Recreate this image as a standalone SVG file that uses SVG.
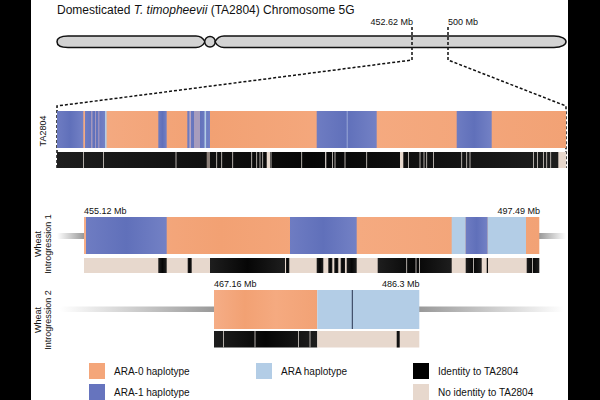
<svg xmlns="http://www.w3.org/2000/svg" width="600" height="400" viewBox="0 0 600 400">
<style>
text{font-family:"Liberation Sans",Arial,sans-serif;fill:#111}
.t{font-size:12px}
.mb{font-size:9px}
.lg{font-size:10px}
.sl{font-size:9px}
.dash{fill:none;stroke:#111;stroke-width:1.5;stroke-dasharray:3 2}
.o{fill:url(#og)}
.b{fill:url(#bg)}
.lb{fill:#B3CDE6}
.k{fill:url(#kg)}
.n{fill:#E7D8CD}
.w{fill:#d9d2cc}
.chr{fill:#d3d3d3;stroke:#111;stroke-width:1.5}
</style>
<defs>
<linearGradient id="og" x1="0" y1="0" x2="1" y2="0">
<stop offset="0" stop-color="#F5AD86"/><stop offset="0.3" stop-color="#F2A173"/><stop offset="0.6" stop-color="#F5AA80"/><stop offset="1" stop-color="#F2A275"/>
</linearGradient>
<linearGradient id="bg" x1="0" y1="0" x2="1" y2="0">
<stop offset="0" stop-color="#6E7CC2"/><stop offset="0.5" stop-color="#6070BA"/><stop offset="1" stop-color="#7381C5"/>
</linearGradient>
<linearGradient id="kg" x1="0" y1="0" x2="1" y2="0">
<stop offset="0" stop-color="#1e1e1e"/><stop offset="0.5" stop-color="#060606"/><stop offset="1" stop-color="#1e1e1e"/>
</linearGradient>
<linearGradient id="gl" x1="0" y1="0" x2="1" y2="0">
<stop offset="0" stop-color="#999" stop-opacity="0"/><stop offset="1" stop-color="#999"/>
</linearGradient>
<linearGradient id="gr" x1="0" y1="0" x2="1" y2="0">
<stop offset="0" stop-color="#999"/><stop offset="1" stop-color="#999" stop-opacity="0"/>
</linearGradient>
</defs>
<rect width="600" height="400" fill="#fff"/>
<rect x="0" y="0" width="31" height="400" fill="#000"/>
<rect x="568" y="0" width="32" height="400" fill="#000"/>

<text class="t" x="57" y="14">Domesticated <tspan font-style="italic">T. timopheevii</tspan> (TA2804) Chromosome 5G</text>

<g id="chromosome">
<path class="chr" d="M68,36 L196,36 Q202,36 205,41.75 Q202,47.5 196,47.5 L68,47.5 C60,47.5 57,45 57,41.75 C57,38.5 60,36 68,36 Z"/>
<circle class="chr" cx="210" cy="41.75" r="5.3"/>
<path class="chr" d="M224,36 L554,36 C562,36 566,39 566,41.75 C566,44.5 562,47.5 554,47.5 L224,47.5 Q218,47.5 215,41.75 Q218,36 224,36 Z"/>
<text class="mb" x="413" y="25" text-anchor="end">452.62 Mb</text>
<text class="mb" x="448" y="25">500 Mb</text>
</g>

<g id="connectors">
<path class="dash" d="M412,27 L412,60 L57,106 L57,168"/>
<path class="dash" d="M448,27 L448,60 L566,106 L566,168"/>
<rect x="57" y="233" width="27" height="6" fill="url(#gl)"/>
<rect x="539" y="233" width="27" height="6" fill="url(#gr)"/>
<rect x="60" y="306.5" width="154" height="5.5" fill="url(#gl)"/>
<rect x="419" y="306.5" width="145" height="5.5" fill="url(#gr)"/>
</g>

<g id="ta2804">
<text class="sl" transform="translate(46,131) rotate(-90)" text-anchor="middle">TA2804</text>
<rect class="o" x="57" y="111" width="509" height="37"/>
<rect class="b" x="57" y="111" width="26.3" height="37"/>
<rect class="b" x="85" y="111" width="20" height="37"/>
<rect x="91" y="111" width="1.5" height="37" fill="#a397bd"/>
<rect x="95" y="111" width="1" height="37" fill="#a397bd"/>
<rect x="98" y="111" width="1.5" height="37" fill="#9a90bd"/>
<rect x="105" y="111" width="1.6" height="37" fill="#B3CDE6"/>
<rect class="b" x="158.3" y="111" width="8.4" height="37"/>
<rect class="b" x="187.3" y="111" width="22.7" height="37"/>
<rect x="189.5" y="111" width="1.3" height="37" fill="#c9b0c0"/>
<rect x="194" y="111" width="6" height="37" fill="#a79cbd"/>
<rect x="204.5" y="111" width="1.6" height="37" fill="#B3CDE6"/>
<rect class="b" x="316.7" y="111" width="60" height="37"/>
<rect x="346.7" y="111" width="1" height="37" fill="#9aa8d8"/>
<rect class="b" x="456.7" y="111" width="35" height="37"/>
<rect class="k" x="57" y="152" width="509" height="16"/>
<g class="w">
<rect x="83" y="152" width="0.8" height="16"/><rect x="103" y="152" width="0.8" height="16"/>
<rect x="175.6" y="152" width="0.8" height="16"/><rect x="216.3" y="152" width="0.8" height="16"/>
<rect x="221.3" y="152" width="0.8" height="16"/><rect x="232.3" y="152" width="0.8" height="16"/>
<rect x="251.3" y="152" width="0.8" height="16"/><rect x="256.3" y="152" width="0.8" height="16"/>
<rect x="259.6" y="152" width="0.8" height="16"/><rect x="262.3" y="152" width="0.8" height="16"/>
<rect x="270.6" y="152" width="0.8" height="16"/><rect x="301.3" y="152" width="0.8" height="16"/>
<rect x="325.1" y="152" width="1.2" height="16"/><rect x="332" y="152" width="0.8" height="16"/>
<rect x="334.6" y="152" width="0.8" height="16"/><rect x="344.6" y="152" width="0.8" height="16"/>
<rect x="366.3" y="152" width="0.8" height="16"/><rect x="408" y="152" width="0.8" height="16"/>
<rect x="419.6" y="152" width="0.8" height="16"/><rect x="423.6" y="152" width="0.8" height="16"/>
<rect x="426.3" y="152" width="0.8" height="16"/><rect x="433" y="152" width="0.8" height="16"/>
<rect x="461.3" y="152" width="0.8" height="16"/><rect x="466.3" y="152" width="0.8" height="16"/>
<rect x="469.6" y="152" width="0.8" height="16"/><rect x="533" y="152" width="0.8" height="16"/>
<rect x="537" y="152" width="0.8" height="16"/><rect x="543" y="152" width="0.8" height="16"/>
<rect x="546.3" y="152" width="0.8" height="16"/><rect x="550.3" y="152" width="0.8" height="16"/>
</g>
<rect x="206.7" y="152" width="3.3" height="16" fill="#8a7e78"/>
<rect class="n" x="266.7" y="152" width="3.3" height="16"/>
<rect class="n" x="400" y="152" width="3.3" height="16"/>
<rect class="n" x="558.3" y="152" width="7.7" height="16"/>
</g>

<g id="introgression1">
<text class="sl" transform="translate(41,244) rotate(-90)" text-anchor="middle">Wheat</text>
<text class="sl" transform="translate(51,244) rotate(-90)" text-anchor="middle">Introgression 1</text>
<text class="mb" x="84" y="214">455.12 Mb</text>
<text class="mb" x="540" y="214" text-anchor="end">497.49 Mb</text>
<rect class="o" x="84" y="217" width="455.3" height="37"/>
<rect class="b" x="86" y="217" width="80.7" height="37"/>
<rect class="b" x="290" y="217" width="66.7" height="37"/>
<rect class="lb" x="451.7" y="217" width="14" height="37"/>
<rect class="b" x="465.7" y="217" width="22" height="37"/>
<rect class="lb" x="487.7" y="217" width="38.3" height="37"/>
<rect class="n" x="84" y="258" width="455.3" height="15"/>
<g class="k">
<rect x="158.3" y="258" width="8.4" height="15"/>
<rect x="187.7" y="258" width="4" height="15"/>
<rect x="210" y="258" width="75" height="15"/>
<rect x="286" y="258" width="3.3" height="15"/>
<rect x="316.7" y="258" width="6.6" height="15"/>
<rect x="328.3" y="258" width="4" height="15"/>
<rect x="334.3" y="258" width="4" height="15"/>
<rect x="340.7" y="258" width="4.3" height="15"/>
<rect x="346.7" y="258" width="10" height="15"/>
<rect x="377.7" y="258" width="74" height="15"/>
<rect x="465.7" y="258" width="16" height="15"/>
<rect x="486.7" y="258" width="1.3" height="15"/>
<rect x="526.7" y="258" width="12.6" height="15"/>
</g>
<g class="w">
<rect x="406.3" y="258" width="0.8" height="15"/><rect x="415.6" y="258" width="0.8" height="15"/>
<rect x="419" y="258" width="0.8" height="15"/><rect x="473" y="258" width="0.8" height="15"/>
<rect x="532" y="258" width="0.8" height="15"/>
</g>
</g>

<g id="introgression2">
<text class="sl" transform="translate(41,320) rotate(-90)" text-anchor="middle">Wheat</text>
<text class="sl" transform="translate(51,320) rotate(-90)" text-anchor="middle">Introgression 2</text>
<text class="mb" x="214" y="287">467.16 Mb</text>
<text class="mb" x="419.5" y="287" text-anchor="end">486.3 Mb</text>
<rect class="o" x="214" y="290" width="103.3" height="39"/>
<rect class="lb" x="317.3" y="290" width="102" height="39"/>
<rect x="351.8" y="290" width="1" height="39" fill="#2a3550"/>
<rect class="k" x="214" y="331" width="103.3" height="16.5"/>
<rect class="n" x="317.3" y="331" width="102" height="16.5"/>
<rect x="396.7" y="331" width="3" height="16.5" fill="#111"/>
<g class="w">
<rect x="223" y="331" width="0.8" height="16.5"/><rect x="254.6" y="331" width="0.8" height="16.5"/>
<rect x="298" y="331" width="0.8" height="16.5"/><rect x="309.6" y="331" width="0.8" height="16.5"/>
</g>
</g>

<g id="legend">
<g id="leg-ara0"><rect x="89" y="363" width="16" height="16" fill="#F4A67A"/><text class="lg" x="114" y="375">ARA-0 haplotype</text></g>
<g id="leg-ara1"><rect x="89" y="384" width="16" height="16" fill="#6674BE"/><text class="lg" x="114" y="396">ARA-1 haplotype</text></g>
<g id="leg-ara"><rect x="256" y="363" width="16" height="16" fill="#B3CDE6"/><text class="lg" x="281" y="375">ARA haplotype</text></g>
<g id="leg-id"><rect x="413" y="363" width="16" height="16" fill="#000"/><text class="lg" x="438" y="375">Identity to TA2804</text></g>
<g id="leg-noid"><rect x="413" y="384" width="16" height="16" fill="#E7D8CD"/><text class="lg" x="438" y="396">No identity to TA2804</text></g>
</g>
</svg>
